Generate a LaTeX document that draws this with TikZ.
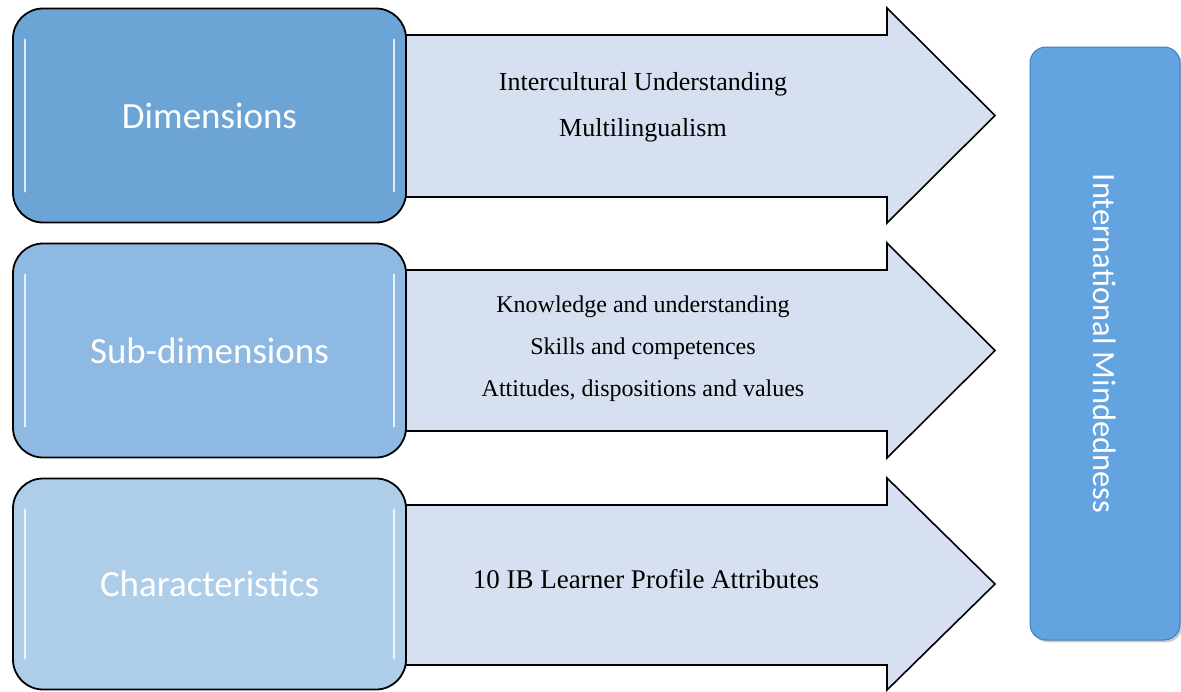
\documentclass[tikz,border=0pt]{standalone}
\usepackage{fontspec}
\setmainfont{Liberation Serif}
\newfontfamily\carlito{Carlito}
\usetikzlibrary{shadows}
\definecolor{dimblue}{RGB}{108,164,214}
\definecolor{subblue}{RGB}{142,185,227}
\definecolor{charblue}{RGB}{173,205,233}
\definecolor{imblue}{RGB}{99,163,223}
\definecolor{imedge}{RGB}{70,125,180}
\definecolor{arrowfill}{RGB}{214,224,240}
\begin{document}
\begin{tikzpicture}[x=1pt,y=-1pt,
    levelbox/.style={draw=black,line width=1.8pt,rounded corners=30pt,text=white,
        font=\carlito\fontsize{37}{40}\selectfont,minimum width=393pt,minimum height=214pt,inner sep=0pt},
    arrowbody/.style={draw=black,line width=1.6pt,fill=arrowfill},
    arrowtext/.style={align=center,font=\fontsize{26}{46}\selectfont},
    gloss/.style={white,line width=2.5pt,line cap=round,opacity=0.8}]
    \useasboundingbox (0,0) rectangle (1181,691);
    % arrows behind the boxes
    \draw[arrowbody] (380,35) -- (887,35) -- (887,8) -- (995,115.5) -- (887,223) -- (887,197) -- (380,197) -- cycle;
    \draw[arrowbody] (380,270) -- (887,270) -- (887,243) -- (995,350.5) -- (887,458) -- (887,431) -- (380,431) -- cycle;
    \draw[arrowbody] (380,505) -- (887,505) -- (887,478) -- (995,584) -- (887,690) -- (887,665) -- (380,665) -- cycle;
    \node[arrowtext] (dimtext) at (643,107) {Intercultural Understanding\\Multilingualism};
    \node[arrowtext,font=\fontsize{24}{42}\selectfont] (subtext) at (643,349) {Knowledge and understanding\\Skills and competences\\Attitudes, dispositions and values};
    \node[arrowtext,font=\fontsize{27}{40}\selectfont] (chartext) at (646,579) {10 IB Learner Profile Attributes};
    % the three levels
    \node[levelbox,fill=dimblue] (dim) at (209.5,115.5) {Dimensions};
    \node[levelbox,fill=subblue] (sub) at (209.5,350.5) {Sub-dimensions};
    \node[levelbox,fill=charblue,minimum height=211pt] (char) at (209.5,584) {Characteristics};
    \foreach \b in {dim,sub,char}{
        \draw[gloss] ([xshift=13pt,yshift=-32pt]\b.north west) -- ([xshift=13pt,yshift=32pt]\b.south west);
        \draw[gloss] ([xshift=-13pt,yshift=-32pt]\b.north east) -- ([xshift=-13pt,yshift=32pt]\b.south east);
    }
    % result
    \node[draw=imedge,line width=1pt,fill=imblue,rounded corners=16pt,rotate=-90,
        minimum width=593pt,minimum height=150pt,text=white,
        font=\carlito\fontsize{32.5}{36}\selectfont,
        drop shadow={opacity=0.4}] (im) at (1105,343.5) {International Mindedness};
\end{tikzpicture}
\end{document}
